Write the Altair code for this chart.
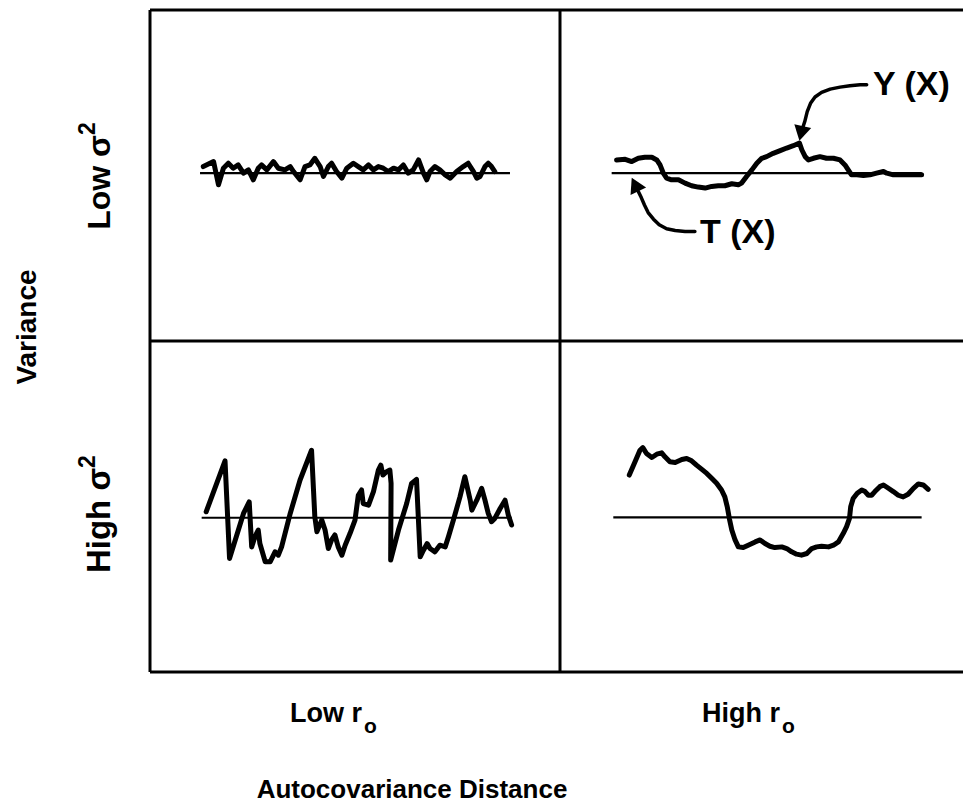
import altair as alt
import pandas as pd

# ---- Series: t = position along transect (0-100 per panel),
# ---- d = deviation of Y(X) from the trend T(X) (vertical units)

# Low variance, short autocovariance distance (top-left)
LVLR_T = [13.0, 15.5, 16.7, 17.9, 19.1, 20.3, 21.5, 22.8, 24.0, 25.2, 26.4, 27.2, 28.5, 30.1,
          31.3, 32.9, 34.2, 35.0, 36.6, 37.8, 39.0, 40.2, 41.5, 42.3, 43.5, 44.3, 45.5, 46.8,
          48.0, 49.6, 50.8, 52.0, 53.3, 54.5, 55.7, 56.9, 58.1, 59.4, 60.6, 61.8, 63.0, 64.2,
          65.5, 66.7, 67.5, 68.3, 69.5, 70.7, 72.0, 73.2, 74.8, 76.4, 77.6, 78.9, 79.7, 80.5,
          81.7, 82.5, 83.3, 84.1]
LVLR_D = [2.0, 3.5, -3.5, 1.5, 3.0, 1.5, 2.5, 0.0, 1.0, -2.0, 1.5, 2.5, 1.0, 3.5,
          1.5, 1.0, 2.0, 0.5, -2.0, 2.0, 2.5, 4.5, 2.0, -1.0, 2.0, 3.0, 0.5, -1.5,
          1.5, 3.0, 2.0, 1.0, 2.5, 1.0, 2.0, 1.5, 0.5, 1.5, 1.0, 2.5, 0.0, 1.0,
          4.0, 0.0, -2.0, 0.5, 2.0, 1.0, -0.5, -1.5, 0.5, 2.0, 3.0, 0.5, -1.5, -1.0,
          2.0, 3.0, 2.0, 0.5]

# Low variance, long autocovariance distance (top-right)
LVHR_T = [13.8, 15.9, 17.5, 19.1, 20.7, 22.4, 23.6, 24.4, 25.2, 26.0, 27.2, 28.9, 30.5, 32.1,
          33.7, 35.4, 37.0, 38.6, 40.2, 41.9, 43.5, 44.3, 45.5, 46.8, 48.0, 49.2, 50.4, 52.0,
          53.7, 55.3, 56.9, 58.4, 59.0, 59.8, 60.6, 61.8, 63.4, 65.0, 66.7, 68.3, 69.5, 70.3,
          71.1, 72.4, 74.0, 75.6, 77.2, 78.9, 79.7, 81.3, 82.9, 85.4, 88.2]
LVHR_D = [4.0, 4.2, 3.5, 4.5, 4.8, 4.8, 4.0, 2.5, 0.0, -1.5, -2.0, -2.0, -3.0, -3.8,
          -4.2, -4.5, -4.0, -3.8, -3.8, -3.2, -3.5, -3.0, -1.0, 1.0, 3.0, 4.5, 5.0, 6.0,
          6.8, 7.6, 8.3, 9.1, 7.0, 5.0, 4.0, 4.5, 5.0, 4.5, 4.5, 4.0, 2.5, 1.0,
          -0.5, -0.5, -0.7, -0.5, 0.0, 0.5, 0.0, -0.5, -0.5, -0.5, -0.5]

# High variance, short autocovariance distance (bottom-left)
HVLR_T = [13.7, 18.3, 19.4, 22.8, 24.2, 24.8, 25.6, 26.4, 26.8, 28.1, 29.3, 30.5, 31.3, 32.1,
          34.2, 36.6, 39.4, 40.2, 40.7, 41.9, 42.7, 43.5, 44.3, 45.1, 45.9, 46.8, 47.6, 48.8,
          50.0, 50.8, 51.6, 52.0, 53.3, 54.5, 55.7, 56.3, 56.8, 57.7, 58.5, 58.8, 58.7, 60.6,
          62.6, 63.8, 65.0, 65.9, 66.7, 67.6, 68.3, 69.5, 70.7, 72.0, 72.8, 74.0, 75.6, 76.8,
          78.1, 78.5, 79.7, 80.9, 81.7, 82.5, 83.3, 84.1, 85.4, 86.6, 87.4, 88.2]
HVLR_D = [1.8, 17.2, -12.3, 1.3, 4.8, -8.8, -5.7, -3.7, -7.8, -13.3, -13.3, -10.3, -11.3, -8.8,
          1.3, 11.4, 20.4, 0.3, -4.2, -0.7, -3.7, -9.3, -6.7, -5.2, -8.8, -11.3, -8.3, -4.7,
          -0.7, 6.8, 8.4, 4.3, 3.8, 7.9, 14.4, 15.9, 12.9, 13.9, 14.4, 10.4, -12.8, -3.7,
          4.3, 10.4, 11.6, -11.8, -9.8, -7.8, -9.3, -10.3, -8.3, -8.8, -5.7, -0.7, 6.3, 12.4,
          5.3, 2.3, 5.3, 8.9, 5.3, 1.3, -1.2, -0.2, 2.8, 5.3, 0.8, -2.2]

# High variance, long autocovariance distance (bottom-right)
HVHR_T = [16.9, 18.3, 19.5, 20.2, 21.1, 22.4, 23.6, 24.8, 25.6, 26.8, 28.1, 29.7, 30.9, 32.1,
          33.3, 34.6, 35.8, 37.0, 38.2, 39.4, 40.2, 40.8, 41.3, 41.9, 42.7, 43.5, 44.7, 45.9,
          47.6, 48.8, 50.0, 51.2, 52.4, 54.1, 55.3, 56.5, 57.7, 58.9, 60.2, 61.4, 62.6, 63.8,
          65.5, 66.7, 67.9, 69.1, 69.9, 70.6, 70.9, 71.5, 72.5, 73.6, 74.4, 75.2, 76.0, 76.8,
          78.0, 78.9, 80.1, 81.3, 82.5, 83.7, 84.9, 86.2, 87.4, 88.6, 89.8]
HVHR_D = [12.8, 16.8, 20.3, 21.1, 19.3, 18.1, 19.1, 19.5, 18.3, 16.8, 16.6, 17.5, 17.8, 17.1,
          15.8, 14.5, 13.3, 11.8, 10.3, 8.3, 6.2, 3.2, -0.3, -3.8, -6.8, -8.9, -9.1, -8.4,
          -7.4, -6.8, -7.9, -8.7, -9.1, -8.9, -9.4, -10.4, -11.1, -11.4, -10.9, -9.4, -8.9, -8.7,
          -8.9, -8.4, -7.4, -4.8, -2.8, -0.3, 3.2, 5.7, 7.3, 8.3, 7.8, 6.7, 6.7, 7.8,
          9.3, 9.8, 8.8, 7.8, 6.7, 6.2, 7.0, 8.8, 10.1, 9.8, 8.5]

# Trend T(X): level and extent of the straight line in each panel
PANELS = ["LVLR", "LVHR", "HVLR", "HVHR"]
T_LEVEL = [50.7, 50.7, 46.6, 46.7]
T_START = [12.2, 12.6, 12.6, 13.0]
T_END = [87.8, 88.2, 88.2, 88.2]

# Annotation arrows (top-right panel)
ARROW_Y_T = [74.8, 73.2, 70.7, 68.3, 65.9, 63.8, 62.2, 61.1, 60.3, 59.7, 59.3]
ARROW_Y_D = [26.7, 26.7, 26.4, 26.0, 25.4, 24.4, 23.0, 21.1, 18.6, 15.6, 14.1]
ARROW_T_T = [32.9, 30.5, 28.1, 26.0, 24.2, 22.8, 21.5, 20.6, 19.8, 19.1]
ARROW_T_D = [-17.6, -17.6, -17.3, -16.8, -15.6, -13.9, -11.9, -9.6, -7.3, -5.5]
HEAD_Y = (58.8, 12.0)
HEAD_T = (18.3, -3.4)

# ---- layout: panel grid (column, row) ----
PANEL_COL = {"LVLR": 0, "LVHR": 1, "HVLR": 0, "HVHR": 1}
PANEL_ROW = {"LVLR": 1, "LVHR": 1, "HVLR": 0, "HVHR": 0}
SERIES = {"LVLR": (LVLR_T, LVLR_D), "LVHR": (LVHR_T, LVHR_D),
          "HVLR": (HVLR_T, HVLR_D), "HVHR": (HVHR_T, HVHR_D)}
LEVEL = dict(zip(PANELS, T_LEVEL))

W, H = 813, 662
PANEL_W_PX = 410
XMAX = 100 * W / PANEL_W_PX


def to_global(panel, t, d):
    return PANEL_COL[panel] * 100 + t, PANEL_ROW[panel] * 100 + LEVEL[panel] + d


rows = []
for p in PANELS:
    ts, ds = SERIES[p]
    for i, (t, d) in enumerate(zip(ts, ds)):
        x, y = to_global(p, t, d)
        rows.append({"series": p + "_Y", "x": x, "y": y, "i": i})
curves = pd.DataFrame(rows)

trow = []
for p, s, e in zip(PANELS, T_START, T_END):
    for i, t in enumerate([s, e]):
        x, y = to_global(p, t, 0)
        trow.append({"series": p + "_T", "x": x, "y": y, "i": i})
tlines = pd.DataFrame(trow)

arow = []
for name, ts, ds in [("ay", ARROW_Y_T, ARROW_Y_D), ("at", ARROW_T_T, ARROW_T_D)]:
    for i, (t, d) in enumerate(zip(ts, ds)):
        x, y = to_global("LVHR", t, d)
        arow.append({"series": name, "x": x, "y": y, "i": i})
arrows = pd.DataFrame(arow)

hy = to_global("LVHR", *HEAD_Y)
ht = to_global("LVHR", *HEAD_T)
head_y = pd.DataFrame({"x": [hy[0]], "y": [hy[1]]})
head_t = pd.DataFrame({"x": [ht[0]], "y": [ht[1]]})

vlines = pd.DataFrame({"x": [0, 100], "y": [0, 0], "y2": [200, 200]})
hlines = pd.DataFrame({"y": [0, 100, 200], "x": [0, 0, 0], "x2": [XMAX, XMAX, XMAX]})

xs = alt.Scale(domain=[0, XMAX], nice=False, zero=False)
ys = alt.Scale(domain=[0, 200], nice=False, zero=False)
X = alt.X("x:Q", scale=xs, axis=None)
Y = alt.Y("y:Q", scale=ys, axis=None)

FONT = "Liberation Sans"

frame_v = alt.Chart(vlines).mark_rule(color="black", strokeWidth=3).encode(
    x=X, y=Y, y2="y2:Q")
frame_h = alt.Chart(hlines).mark_rule(color="black", strokeWidth=3).encode(
    x=X, x2="x2:Q", y=Y)
trend = alt.Chart(tlines).mark_line(color="black", strokeWidth=2.2).encode(
    x=X, y=Y, detail="series:N", order="i:Q")
curve = alt.Chart(curves).mark_line(color="black", strokeWidth=5, strokeJoin="round",
                                    strokeCap="round").encode(
    x=X, y=Y, detail="series:N", order="i:Q")
arrow = alt.Chart(arrows).mark_line(color="black", strokeWidth=3.5, strokeCap="round",
                                    strokeJoin="round").encode(
    x=X, y=Y, detail="series:N", order="i:Q")
hy_mark = alt.Chart(head_y).mark_point(shape="triangle-up", filled=True, color="black",
                                       opacity=1, size=300, angle=193).encode(x=X, y=Y)
ht_mark = alt.Chart(head_t).mark_point(shape="triangle-up", filled=True, color="black",
                                       opacity=1, size=300, angle=334).encode(x=X, y=Y)

one = pd.DataFrame({"a": [0]})


def label(text, x, y, size, angle=0, align="center", baseline="middle"):
    return alt.Chart(one).mark_text(text=text, font=FONT, fontWeight="bold", fontSize=size,
                                    angle=angle, align=align, baseline=baseline,
                                    color="black").encode(x=alt.value(x), y=alt.value(y))


texts = [
    label("Variance", -122, 317, 28, angle=270),
    label("Low σ", -50, 125, 32, angle=270, align="right"),
    label("2", -62, 125, 23, angle=270, align="left"),
    label("High σ", -50, 458, 33, angle=270, align="right"),
    label("2", -62, 458, 23, angle=270, align="left"),
    label("Low r", 212, 712, 27, align="right", baseline="alphabetic"),
    label("o", 214, 723, 21, align="left", baseline="alphabetic"),
    label("High r", 630, 712, 27, align="right", baseline="alphabetic"),
    label("o", 632, 723, 21, align="left", baseline="alphabetic"),
    label("Autocovariance Distance", 262, 780, 26),
    label("Y (X)", 723, 75, 34, align="left"),
    label("T (X)", 550, 223, 34, align="left"),
]

chart = alt.layer(frame_v, frame_h, trend, curve, arrow, hy_mark, ht_mark, *texts).properties(
    width=W, height=H,
    padding={"left": 150, "top": 10, "right": 0, "bottom": 140},
    autosize=alt.AutoSizeParams(type="none"),
    background="white",
).configure_view(stroke=None)

chart.save("out.html", embed_options={"renderer": "svg", "actions": False})
